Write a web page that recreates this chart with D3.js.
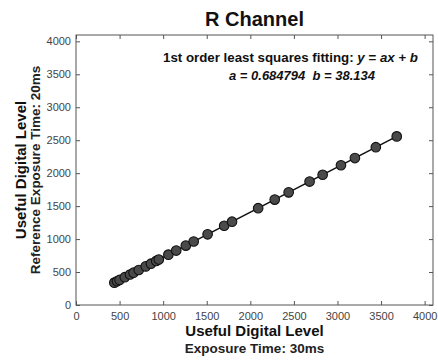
<!DOCTYPE html>
<html>
<head>
<meta charset="utf-8">
<script src="https://cdn.jsdelivr.net/npm/d3@7"></script>
<style>
  html, body { margin: 0; padding: 0; background: #fff; }
  svg { display: block; font-family: Arial, "Liberation Sans", sans-serif; }
</style>
</head>
<body>
<svg id="chart" width="438" height="360"></svg>
<script>
// Useful digital level at 30 ms exposure (x) vs. 20 ms reference exposure (y)
const levels30ms = [440, 470, 500, 560, 620, 660, 720, 800, 860, 920, 950, 1060, 1150,
  1260, 1350, 1510, 1700, 1790, 2090, 2280, 2440, 2680, 2830, 3040, 3200, 3440, 3680];
const levels20ms = [339, 360, 380, 422, 463, 490, 531, 586, 627, 668, 689, 764, 826,
  901, 963, 1072, 1202, 1264, 1469, 1599, 1709, 1873, 1976, 2120, 2229, 2394, 2558];

// Least squares coefficients reported in the annotation
const fitA = 0.684794;
const fitB = 38.134;

const xTicks = [0, 500, 1000, 1500, 2000, 2500, 3000, 3500, 4000];
const yTicks = [0, 500, 1000, 1500, 2000, 2500, 3000, 3500, 4000];

const svg = d3.select("#chart");
const box = { left: 76, right: 433, top: 35, bottom: 305 };

const x = d3.scaleLinear().domain([0, 4096]).range([box.left, box.right]);
const y = d3.scaleLinear().domain([0, 4096]).range([box.bottom, box.top]);

const axisColor = "#555";
const tickLen = 4;

// Plot frame
svg.append("rect")
  .attr("x", box.left).attr("y", box.top)
  .attr("width", box.right - box.left).attr("height", box.bottom - box.top)
  .attr("fill", "none").attr("stroke", axisColor).attr("stroke-width", 1);

function styleAxis(g) {
  g.select(".domain").remove();
  g.selectAll(".tick line").attr("stroke", axisColor);
  g.selectAll(".tick text").attr("fill", "#444").attr("font-size", 11)
    .attr("font-family", "'Liberation Sans Narrow', Arial, sans-serif");
}

// Bottom and left axes with inward ticks and labels
svg.append("g").attr("transform", `translate(0,${box.bottom})`)
  .call(d3.axisBottom(x).tickValues(xTicks).tickSize(-tickLen).tickPadding(7).tickFormat(d3.format("d")))
  .call(styleAxis);
svg.append("g").attr("transform", `translate(${box.left},0)`)
  .call(d3.axisLeft(y).tickValues(yTicks).tickSize(-tickLen).tickPadding(5).tickFormat(d3.format("d")))
  .call(styleAxis);
// Mirrored ticks on top and right
svg.append("g").attr("transform", `translate(0,${box.top})`)
  .call(d3.axisTop(x).tickValues(xTicks).tickSize(-tickLen).tickFormat(""))
  .call(styleAxis);
svg.append("g").attr("transform", `translate(${box.right},0)`)
  .call(d3.axisRight(y).tickValues(yTicks).tickSize(-tickLen).tickFormat(""))
  .call(styleAxis);

// Fitted line across the measured range
const xMin = d3.min(levels30ms), xMax = d3.max(levels30ms);
svg.append("line")
  .attr("x1", x(xMin)).attr("y1", y(fitA * xMin + fitB))
  .attr("x2", x(xMax)).attr("y2", y(fitA * xMax + fitB))
  .attr("stroke", "#111").attr("stroke-width", 1.6);

// Measured points
svg.append("g").selectAll("circle")
  .data(levels30ms.map((v, i) => [v, levels20ms[i]]))
  .join("circle")
  .attr("cx", d => x(d[0])).attr("cy", d => y(d[1]))
  .attr("r", 4.8)
  .attr("fill", "#4a4a4a").attr("stroke", "#111").attr("stroke-width", 1.1);

// Title
svg.append("text")
  .attr("x", (box.left + box.right) / 2).attr("y", 26)
  .attr("text-anchor", "middle").attr("font-size", 20).attr("font-weight", "bold")
  .attr("fill", "#111").text("R Channel");

// Fit annotation
const note1 = svg.append("text")
  .attr("x", 163).attr("y", 62)
  .attr("font-size", 13.3).attr("font-weight", "bold").attr("fill", "#111");
note1.append("tspan").text("1st order least squares fitting: ");
note1.append("tspan").attr("font-style", "italic").text("y");
note1.append("tspan").text(" = ");
note1.append("tspan").attr("font-style", "italic").text("ax");
note1.append("tspan").text(" + ");
note1.append("tspan").attr("font-style", "italic").text("b");

svg.append("text")
  .attr("x", 229).attr("y", 80)
  .attr("font-size", 13).attr("font-weight", "bold").attr("font-style", "italic")
  .attr("fill", "#111").attr("xml:space", "preserve")
  .text(`a = ${fitA}  b = ${fitB}`);

// Axis titles
const cx = (box.left + box.right) / 2;
svg.append("text")
  .attr("x", cx).attr("y", 336)
  .attr("text-anchor", "middle").attr("font-size", 15).attr("font-weight", "bold")
  .attr("fill", "#111").text("Useful Digital Level");
svg.append("text")
  .attr("x", cx).attr("y", 353)
  .attr("text-anchor", "middle").attr("font-size", 13.5).attr("font-weight", "bold")
  .attr("fill", "#222").text("Exposure Time: 30ms");

const cy = (box.top + box.bottom) / 2;
svg.append("text")
  .attr("transform", `translate(26,${cy}) rotate(-90)`)
  .attr("text-anchor", "middle").attr("font-size", 15).attr("font-weight", "bold")
  .attr("fill", "#111").text("Useful Digital Level");
svg.append("text")
  .attr("transform", `translate(40,${cy}) rotate(-90)`)
  .attr("text-anchor", "middle").attr("font-size", 13.5).attr("font-weight", "bold")
  .attr("fill", "#222").text("Reference Exposure Time: 20ms");
</script>
</body>
</html>
